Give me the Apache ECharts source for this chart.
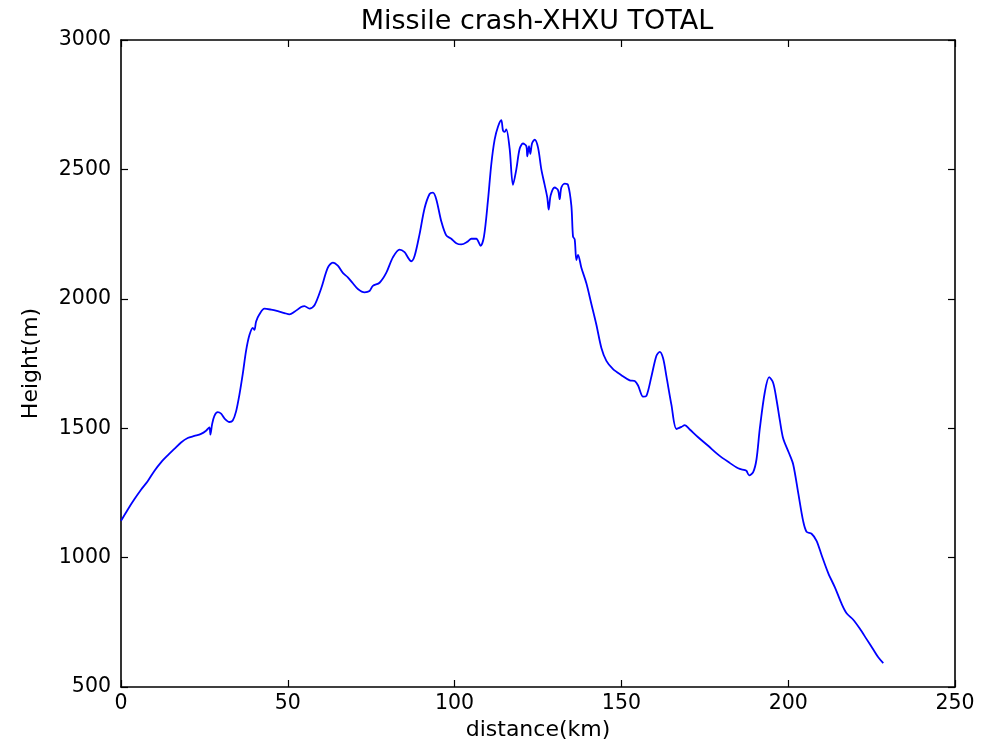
<!DOCTYPE html>
<html>
<head>
<meta charset="utf-8">
<title>Missile crash-XHXU TOTAL</title>
<script src="https://cdn.jsdelivr.net/npm/echarts@6/dist/echarts.min.js"></script>
<style>
  html, body { margin: 0; padding: 0; background: #ffffff; }
  #chart { width: 994px; height: 746px; }
</style>
</head>
<body>
<div id="chart"></div>
<script>
// Terrain profile along the flight path
const distanceKm = [
  0, 2, 4, 6, 8, 10, 12, 14, 16, 18, 20, 22, 24, 25.5, 26.5, 26.8, 27.3, 28, 29, 30,
  31, 32.5, 33.5, 34.5, 35.5, 36.5, 37.5, 38.5, 39.5, 40, 40.5, 41.5, 43, 45, 47, 49,
  50.5, 52, 54, 55, 56.5, 58, 60, 62, 63.5, 65, 66.5, 68, 69.5, 71, 73, 74.5, 75.5,
  77.5, 79.5, 81.5, 83.5, 85, 86, 87, 88, 89.5, 91, 92.5, 93.5, 94.5, 96, 97.5, 99,
  100.5, 102, 104, 105, 106.5, 107.8, 108.8, 110, 111, 112, 113, 114, 114.5, 115,
  115.5, 116.5, 117.5, 118.5, 119.5, 120.5, 121.5, 121.8, 122.3, 122.7, 123.2, 124,
  125, 126, 127, 127.8, 128.2, 128.8, 130, 131, 131.5, 132, 133, 134, 135, 135.5,
  136, 136.5, 137, 138, 139.5, 141, 142.5, 144, 145.5, 147.5, 150, 152.5, 154, 155,
  156.5, 157.5, 159, 160.5, 161.5, 162.5, 163.5, 165, 166.5, 168, 169, 170.5, 173,
  176, 179, 182, 185, 187, 187.5, 188.3, 189.5, 190.5, 191.5, 193, 194.3, 195.5,
  196.5, 197.5, 198.5, 200.2, 201.5, 203, 204.5, 205.5, 207, 208.5, 210, 212, 214,
  216, 217.5, 219.5, 221.5, 223.5, 225.5, 227, 228.5
];
const heightM = [
  1142, 1185, 1225, 1262, 1295, 1335, 1368, 1395, 1420, 1445, 1462, 1470, 1478, 1490, 1503, 1475, 1515, 1548, 1562, 1556,
  1538, 1524, 1530, 1565, 1630, 1710, 1800, 1860, 1888, 1880, 1912, 1940, 1962, 1958, 1952, 1945,
  1940, 1950, 1968, 1972, 1962, 1975, 2040, 2120, 2140, 2128, 2100, 2083, 2060, 2038, 2025, 2030, 2050,
  2062, 2100, 2160, 2190, 2180, 2160, 2145, 2165, 2250, 2350, 2405, 2410, 2385, 2300, 2245, 2232,
  2215, 2210, 2222, 2232, 2232, 2205, 2240, 2380, 2520, 2615, 2665, 2690, 2650, 2645,
  2655, 2580, 2440, 2500, 2580, 2600, 2590, 2550, 2590, 2560, 2600, 2615,
  2585, 2500, 2440, 2390, 2345, 2400, 2430, 2420, 2385, 2430, 2445, 2440, 2360, 2240,
  2230, 2150, 2170, 2120, 2060, 1980, 1900, 1810, 1760, 1728, 1705, 1685, 1682, 1665,
  1622, 1625, 1700, 1780, 1795, 1770, 1700, 1590, 1497, 1505, 1512, 1495, 1465,
  1432, 1398, 1370, 1345, 1338, 1335, 1318, 1330, 1380, 1500, 1640, 1697, 1675,
  1610, 1530, 1460, 1405, 1360, 1250, 1140, 1100, 1092, 1065, 1010, 940, 885,
  822, 785, 760, 725, 685, 645, 615, 592
];
const xTicks = [0, 50, 100, 150, 200, 250];
const yTicks = [500, 1000, 1500, 2000, 2500, 3000];

const profile = distanceKm.map((d, i) => [d, heightM[i]]);

const FONT = '"DejaVu Sans", sans-serif';
const INK = '#000000';

const frameLine = { show: true, onZero: false, lineStyle: { color: INK, width: 1.6 } };
const innerTick = { show: true, inside: true, length: 7, lineStyle: { color: INK, width: 1.2 } };
const plainNumber = v => String(v);

const xBase = {
  type: 'value',
  min: xTicks[0],
  max: xTicks[xTicks.length - 1],
  interval: xTicks[1] - xTicks[0],
  splitLine: { show: false },
  axisLine: frameLine,
  axisTick: innerTick
};
const yBase = {
  type: 'value',
  min: yTicks[0],
  max: yTicks[yTicks.length - 1],
  interval: yTicks[1] - yTicks[0],
  splitLine: { show: false },
  axisLine: frameLine,
  axisTick: innerTick
};

const chart = echarts.init(document.getElementById('chart'), null, { renderer: 'canvas' });
chart.setOption({
  animation: false,
  backgroundColor: '#ffffff',
  title: {
    text: 'Missile crash-XHXU TOTAL',
    left: 532,
    top: 3,
    textAlign: 'center',
    textStyle: { fontFamily: FONT, fontSize: 27, fontWeight: 'normal', color: INK }
  },
  grid: { left: 121, right: 39, top: 40, bottom: 59, containLabel: false },
  xAxis: [
    Object.assign({}, xBase, {
      position: 'bottom',
      name: 'distance(km)',
      nameLocation: 'middle',
      nameGap: 32,
      nameTextStyle: { fontFamily: FONT, fontSize: 22, color: INK },
      axisLabel: { fontFamily: FONT, fontSize: 20.5, color: INK, margin: 6, formatter: plainNumber }
    }),
    Object.assign({}, xBase, { position: 'top', axisLabel: { show: false } })
  ],
  yAxis: [
    Object.assign({}, yBase, {
      position: 'left',
      name: 'Height(m)',
      nameLocation: 'middle',
      nameGap: 79,
      nameTextStyle: { fontFamily: FONT, fontSize: 22, color: INK },
      axisLabel: { fontFamily: FONT, fontSize: 20.5, color: INK, margin: 10, formatter: plainNumber }
    }),
    Object.assign({}, yBase, { position: 'right', axisLabel: { show: false } })
  ],
  series: [{
    type: 'line',
    xAxisIndex: 0,
    yAxisIndex: 0,
    data: profile,
    showSymbol: false,
    smooth: 0.3,
    lineStyle: { color: '#0000ff', width: 1.8 }
  }]
});
</script>
</body>
</html>
